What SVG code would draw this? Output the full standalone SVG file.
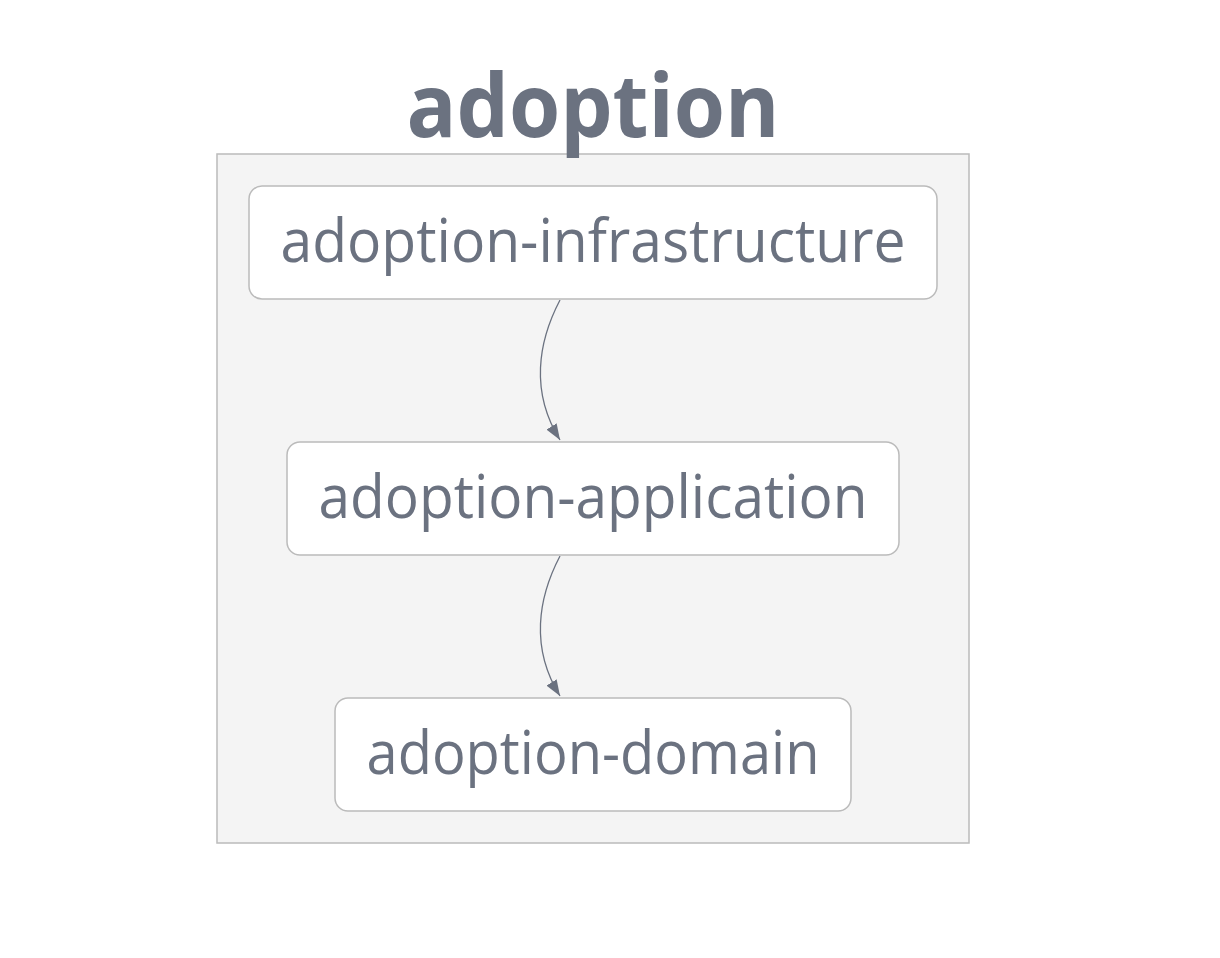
<svg xmlns="http://www.w3.org/2000/svg" width="1220" height="958" viewBox="0 0 1220 958">
<style>
.cluster{fill:#f4f4f4;stroke:#bbbbbb;stroke-width:1.5}
.node rect{fill:#ffffff;stroke:#bbbbbb;stroke-width:1.5}
.node text{font-family:"Open Sans","Noto Sans",sans-serif;font-size:60px;fill:#6b7280;text-anchor:middle}
.title{font-family:"Open Sans","Noto Sans",sans-serif;font-size:88px;font-weight:bold;fill:#6b7280;text-anchor:middle}
.edge{fill:none;stroke:#6b7280;stroke-width:1.3}
</style>
<defs>
<marker id="arrow" viewBox="0 0 16 12" refX="16" refY="6" markerWidth="16" markerHeight="12" markerUnits="userSpaceOnUse" orient="auto">
<path d="M0,0 L16,6 L0,12 Z" fill="#6b7280"/>
</marker>
</defs>
<rect width="1220" height="958" fill="#ffffff"/>
<g id="cluster-adoption">
<rect class="cluster" x="217" y="154" width="752" height="689"/>
<text class="title" x="593" y="137" textLength="373" lengthAdjust="spacingAndGlyphs">adoption</text>
</g>
<g id="edges">
<path class="edge" d="M560,300 C538,342 530,392 560,440" marker-end="url(#arrow)"/>
<path class="edge" d="M560,556 C538,598 530,648 560,696" marker-end="url(#arrow)"/>
</g>
<g id="adoption-infrastructure" class="node">
<rect x="249" y="186" width="688" height="113" rx="13"/>
<text x="593" y="262" textLength="625" lengthAdjust="spacingAndGlyphs">adoption-infrastructure</text>
</g>
<g id="adoption-application" class="node">
<rect x="287" y="442" width="612" height="113" rx="13"/>
<text x="593" y="518" textLength="549" lengthAdjust="spacingAndGlyphs">adoption-application</text>
</g>
<g id="adoption-domain" class="node">
<rect x="335" y="698" width="516" height="113" rx="13"/>
<text x="593" y="774" textLength="453" lengthAdjust="spacingAndGlyphs">adoption-domain</text>
</g>
</svg>
